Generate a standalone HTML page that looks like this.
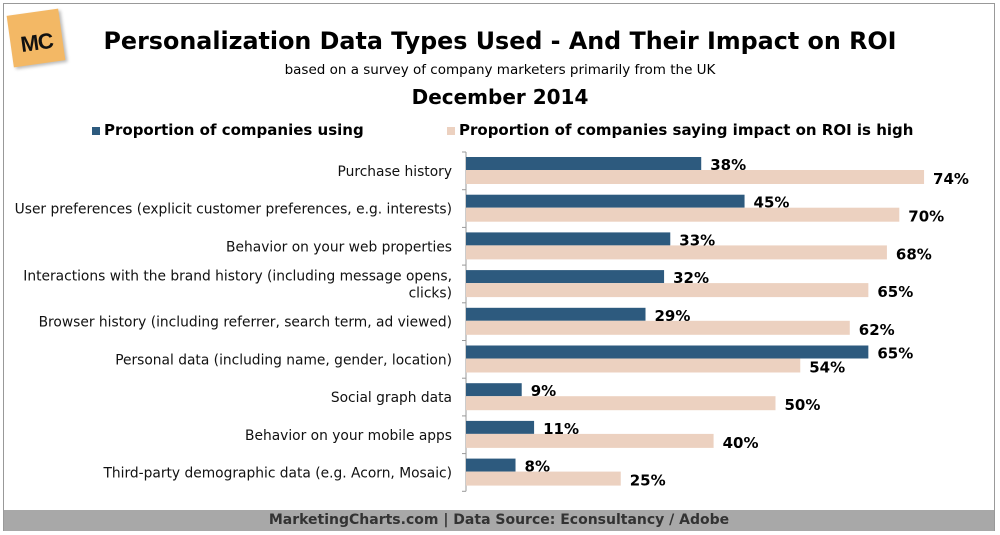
<!DOCTYPE html>
<html><head><meta charset="utf-8"><style>
body{margin:0;width:1000px;height:535px;overflow:hidden;background:#fff;font-family:"DejaVu Sans",Verdana,sans-serif}
#frame{position:absolute;left:3px;top:3px;width:992px;height:528px;border:1px solid #999;box-sizing:border-box}
.t{position:absolute;left:0;width:1000px;text-align:center;color:#000}
</style></head><body>
<div id="frame"></div>
<div style="position:absolute;left:10px;top:12px;width:52px;height:52px;background:#f3b865;transform:rotate(-8deg);box-shadow:2px 2px 3px #bbb">
<div style="position:absolute;left:0;top:18px;width:52px;text-align:center;font:bold 22px 'Liberation Sans',sans-serif;color:#111;letter-spacing:-1px">MC</div></div>
<div class="t" style="top:27px;font-weight:bold;font-size:23.8px">Personalization Data Types Used - And Their Impact on ROI</div>
<div class="t" style="top:62px;font-size:13.5px">based on a survey of company marketers primarily from the UK</div>
<div class="t" style="top:85px;font-weight:bold;font-size:20px">December 2014</div>
<div style="position:absolute;left:92px;top:121px;font-weight:bold;font-size:15px"><span style="display:inline-block;width:8px;height:8px;background:#2d5a7e;margin-right:4px"></span>Proportion of companies using</div>
<div style="position:absolute;left:447px;top:121px;font-weight:bold;font-size:15px"><span style="display:inline-block;width:8px;height:8px;background:#ecd1c0;margin-right:4px"></span>Proportion of companies saying impact on ROI is high</div>
<svg id="chart" width="1000" height="535" style="position:absolute;left:0;top:0"></svg>
<div style="position:absolute;left:4px;top:510px;width:990px;height:21px;background:#a8a8a8;color:#333;font-weight:bold;font-size:14px;text-align:center;line-height:21px">MarketingCharts.com | Data Source: Econsultancy / Adobe</div>
<script>
const categories=[["Purchase history"],["User preferences (explicit customer preferences, e.g. interests)"],["Behavior on your web properties"],["Interactions with the brand history (including message opens,","clicks)"],["Browser history (including referrer, search term, ad viewed)"],["Personal data (including name, gender, location)"],["Social graph data"],["Behavior on your mobile apps"],["Third-party demographic data (e.g. Acorn, Mosaic)"]];
const usingValues=[38,45,33,32,29,65,9,11,8];
const roiValues=[74,70,68,65,62,54,50,40,25];
const svg=document.getElementById('chart');const NS='http://www.w3.org/2000/svg';
const x0=466,pxPer=6.19,top0=152,band=37.7;
const xs=v=>x0+v*pxPer;
const F='DejaVu Sans,Verdana,sans-serif';
function mk(t,a){const e=document.createElementNS(NS,t);for(const k in a)e.setAttribute(k,a[k]);svg.appendChild(e);return e;}
const ax=mk('line',{x1:x0,x2:x0,y1:top0,y2:top0+band*categories.length,stroke:'#999'});


for(let i=0;i<=categories.length;i++){const tk=mk('line',{x1:x0-4,x2:x0,y1:top0+i*band,y2:top0+i*band,stroke:'#999'});

}
categories.forEach((c,i)=>{const y=top0+i*band;
const b1=mk('rect',{x:x0,y:y+5,width:xs(usingValues[i])-x0,height:13,fill:'#2d5a7e'});


const b2=mk('rect',{x:x0,y:y+18,width:xs(roiValues[i])-x0,height:14,fill:'#ecd1c0'});


const l1=mk('text',{x:xs(usingValues[i])+9,y:y+18,'font-size':15,'font-weight':'bold','font-family':F});l1.textContent=usingValues[i]+'%';


const l2=mk('text',{x:xs(roiValues[i])+9,y:y+32,'font-size':15,'font-weight':'bold','font-family':F});l2.textContent=roiValues[i]+'%';


const n=c.length;c.forEach((line,j)=>{const t=mk('text',{x:452,y:y+band/2+5+(j-(n-1)/2)*17,'text-anchor':'end','font-size':13.8,fill:'#111','font-family':F});t.textContent=line;

});
});
</script>
</body></html>
